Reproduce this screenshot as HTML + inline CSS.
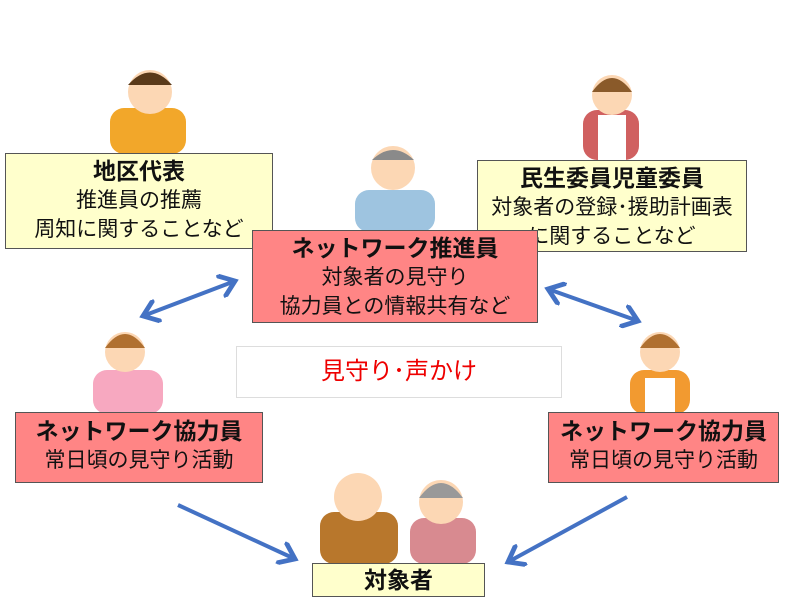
<!DOCTYPE html>
<html><head><meta charset="utf-8"><style>
body{margin:0;width:800px;height:600px;background:#fff;position:relative;overflow:hidden;font-family:"Liberation Sans","Noto Sans CJK JP",sans-serif}
.b{position:absolute;box-sizing:border-box;border:1px solid #555;text-align:center;color:#111;font-size:21px;line-height:29px}
.y{background:#ffffcc}.p{background:#ff8585}
.t{font-weight:bold;font-size:23px}
svg{position:absolute;left:0;top:0}
</style></head><body>
<svg width="800" height="600">
<defs><marker id="a" markerWidth="6" markerHeight="6" refX="4" refY="3" orient="auto-start-reverse" markerUnits="strokeWidth"><path d="M0,0 L4,3 L0,6" fill="none" stroke="#4472c4" stroke-width="1.2"/></marker></defs>
<g stroke="#4472c4" stroke-width="4" fill="none">
<line x1="143" y1="316" x2="235" y2="281" marker-start="url(#a)" marker-end="url(#a)"/>
<line x1="548" y1="289" x2="638" y2="321" marker-start="url(#a)" marker-end="url(#a)"/>
<line x1="178" y1="505" x2="295" y2="559" marker-end="url(#a)"/>
<line x1="627" y1="497" x2="508" y2="562" marker-end="url(#a)"/>
</g>
<!-- people (simplified) -->
<g>
<rect x="110" y="108" width="76" height="46" rx="14" fill="#f2a72a"/><circle cx="150" cy="92" r="22" fill="#fcd7b4"/><path d="M128,85 q22,-25 44,0" fill="#5a3a1a"/>
<rect x="583" y="110" width="56" height="50" rx="14" fill="#d06060"/><rect x="598" y="115" width="28" height="45" fill="#fff"/><circle cx="612" cy="95" r="20" fill="#fcd7b4"/><path d="M592,92 q20,-28 40,0" fill="#8a5a2a"/>
<rect x="355" y="190" width="80" height="42" rx="14" fill="#9ec4e0"/><circle cx="393" cy="168" r="22" fill="#fcd7b4"/><path d="M372,160 q21,-20 42,0" fill="#8a8a8a"/>
<rect x="93" y="370" width="70" height="44" rx="14" fill="#f7a8c0"/><circle cx="125" cy="352" r="20" fill="#fcd7b4"/><path d="M105,348 q20,-28 40,0" fill="#b07030"/>
<rect x="630" y="370" width="60" height="44" rx="14" fill="#f29a30"/><rect x="645" y="378" width="30" height="36" fill="#fff"/><circle cx="660" cy="352" r="20" fill="#fcd7b4"/><path d="M640,348 q20,-28 40,0" fill="#b07030"/>
<rect x="320" y="512" width="78" height="52" rx="14" fill="#b8772c"/><circle cx="358" cy="497" r="24" fill="#fcd7b4"/>
<rect x="410" y="518" width="66" height="46" rx="14" fill="#d88a90"/><circle cx="441" cy="502" r="22" fill="#fcd7b4"/><path d="M419,498 q22,-30 44,0" fill="#999"/>
</g>
</svg>
<div class="b y" style="left:5px;top:153px;width:268px;height:96px;padding-top:3px"><div class="t">地区代表</div>推進員の推薦<br>周知に関することなど</div>
<div class="b y" style="left:477px;top:160px;width:270px;height:92px;padding-top:3px"><div class="t">民生委員児童委員</div>対象者の登録･援助計画表<br>に関することなど</div>
<div class="b p" style="left:252px;top:230px;width:286px;height:93px;padding-top:3px"><div class="t">ネットワーク推進員</div>対象者の見守り<br>協力員との情報共有など</div>
<div class="b" style="left:236px;top:346px;width:326px;height:52px;border-color:#ddd;color:#e00;font-size:24px;line-height:50px">見守り･声かけ</div>
<div class="b p" style="left:15px;top:412px;width:248px;height:71px;padding-top:4px"><div class="t">ネットワーク協力員</div>常日頃の見守り活動</div>
<div class="b p" style="left:548px;top:412px;width:231px;height:71px;padding-top:4px"><div class="t">ネットワーク協力員</div>常日頃の見守り活動</div>
<div class="b y" style="left:312px;top:563px;width:173px;height:34px;line-height:32px"><span class="t">対象者</span></div>
</body></html>
